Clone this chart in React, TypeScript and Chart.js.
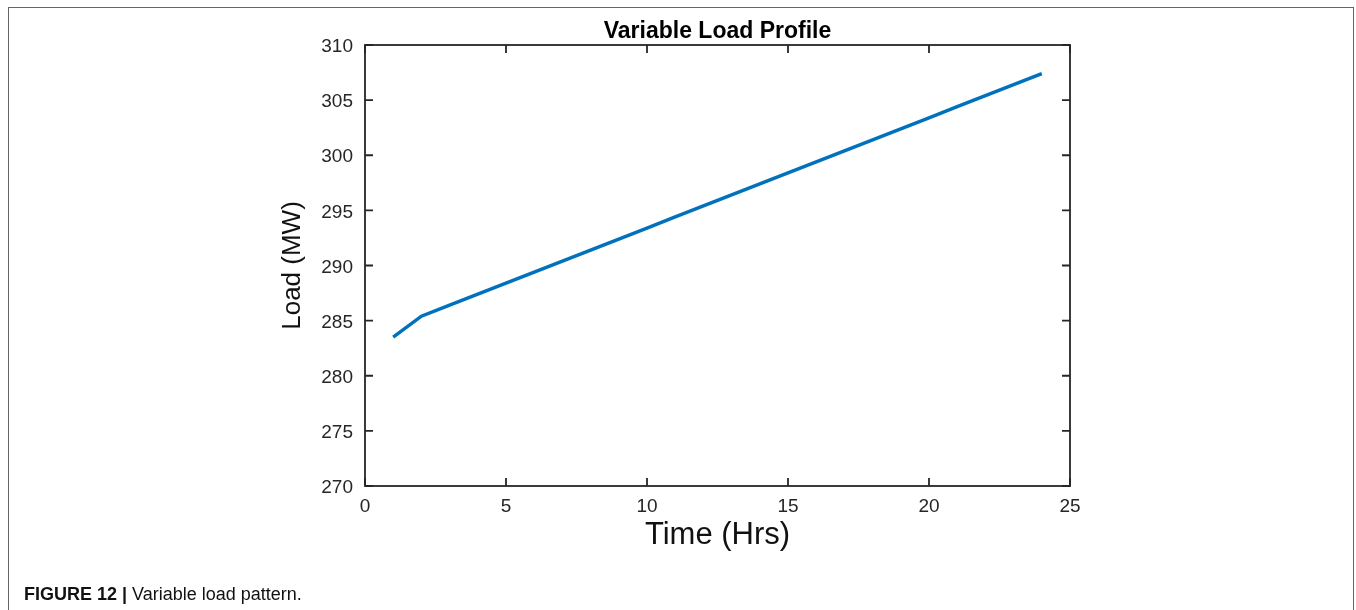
import React, { useEffect, useRef } from "react";
import { Chart, registerables } from "chart.js";

Chart.register(...registerables);

const hours = [1, 2, 3, 4, 5, 6, 7, 8, 9, 10, 11, 12, 13, 14, 15, 16, 17, 18, 19, 20, 21, 22, 23, 24];
const loadMW = [
  283.5, 285.4, 286.4, 287.4, 288.4, 289.4, 290.4, 291.4, 292.4, 293.4, 294.4, 295.4,
  296.4, 297.4, 298.4, 299.4, 300.4, 301.4, 302.4, 303.4, 304.4, 305.4, 306.4, 307.4,
];
const xTicks = [0, 5, 10, 15, 20, 25];
const yTicks = [270, 275, 280, 285, 290, 295, 300, 305, 310];

const chartTitle = "Variable Load Profile";
const xTitle = "Time (Hrs)";
const yTitle = "Load (MW)";
const captionBold = "FIGURE 12 |";
const captionText = " Variable load pattern.";

const FONT = "'Liberation Sans', Arial, Helvetica, sans-serif";
const AXIS = "#262626";

const boxPlugin = {
  id: "matlabBox",
  afterDraw(chart: any) {
    const { ctx, chartArea, scales } = chart;
    const { left, right, top, bottom } = chartArea;
    const x = scales.x;
    const y = scales.y;
    const tl = 8;
    ctx.save();
    ctx.strokeStyle = AXIS;
    ctx.lineWidth = 1.8;
    ctx.strokeRect(left, top, right - left, bottom - top);
    ctx.beginPath();
    for (const v of xTicks) {
      const px = x.getPixelForValue(v);
      ctx.moveTo(px, bottom);
      ctx.lineTo(px, bottom - tl);
      ctx.moveTo(px, top);
      ctx.lineTo(px, top + tl);
    }
    for (const v of yTicks) {
      const py = y.getPixelForValue(v);
      ctx.moveTo(left, py);
      ctx.lineTo(left + tl, py);
      ctx.moveTo(right, py);
      ctx.lineTo(right - tl, py);
    }
    ctx.stroke();
    ctx.restore();
  },
};

export default function App() {
  const canvasRef = useRef<HTMLCanvasElement | null>(null);

  useEffect(() => {
    if (!canvasRef.current) return;
    const chart = new Chart(canvasRef.current, {
      type: "line",
      data: {
        datasets: [
          {
            label: "Load",
            data: hours.map((h, i) => ({ x: h, y: loadMW[i] })),
            borderColor: "#0072BD",
            backgroundColor: "#0072BD",
            borderWidth: 3.5,
            pointRadius: 0,
            tension: 0,
            fill: false,
          },
        ],
      },
      options: {
        responsive: false,
        animation: false,
        devicePixelRatio: 1,
        layout: { padding: { left: 277, right: 286, top: 0, bottom: 56 } },
        plugins: {
          legend: { display: false },
          tooltip: { enabled: false },
          title: {
            display: true,
            text: chartTitle,
            fullSize: false,
            color: "#000",
            font: { family: FONT, size: 23, weight: "bold", lineHeight: 1 },
            padding: { top: 20, bottom: 2 },
          },
        },
        scales: {
          x: {
            type: "linear",
            min: 0,
            max: 25,
            afterBuildTicks: (scale: any) => {
              scale.ticks = xTicks.map((v) => ({ value: v }));
            },
            afterFit: (scale: any) => {
              scale.height = 68;
            },
            grid: { display: false, drawTicks: false },
            border: { display: false },
            ticks: {
              color: AXIS,
              padding: 9,
              maxRotation: 0,
              font: { family: FONT, size: 19 },
              callback: (v: any) => String(v),
            },
            title: {
              display: true,
              text: xTitle,
              color: "#111",
              padding: 0,
              font: { family: FONT, size: 31 },
            },
          },
          y: {
            type: "linear",
            min: 270,
            max: 310,
            afterBuildTicks: (scale: any) => {
              scale.ticks = yTicks.map((v) => ({ value: v }));
            },
            afterFit: (scale: any) => {
              scale.width = 88;
            },
            grid: { display: false, drawTicks: false },
            border: { display: false },
            ticks: {
              color: AXIS,
              padding: 12,
              labelOffset: 2,
              font: { family: FONT, size: 19 },
              callback: (v: any) => String(v),
            },
            title: {
              display: true,
              text: yTitle,
              color: "#111",
              padding: 0,
              font: { family: FONT, size: 26 },
            },
          },
        },
      },
      plugins: [boxPlugin],
    } as any);
    return () => chart.destroy();
  }, []);

  return (
    <div
      style={{
        position: "fixed",
        left: 0,
        top: 0,
        width: 1356,
        height: 610,
        overflow: "hidden",
        background: "#fff",
      }}
    >
      <div
        style={{
          position: "absolute",
          left: 8,
          top: 7,
          width: 1344,
          height: 700,
          borderLeft: "1px solid #666",
          borderTop: "1px solid #666",
          borderRight: "1px solid #666",
        }}
      />
      <canvas
        ref={canvasRef}
        width={1356}
        height={610}
        style={{ position: "absolute", left: 0, top: 0, width: 1356, height: 610 }}
      />
      <div
        style={{
          position: "absolute",
          left: 24,
          top: 585,
          fontFamily: FONT,
          fontSize: 18,
          lineHeight: "18px",
          color: "#111",
          whiteSpace: "nowrap",
        }}
      >
        <b>{captionBold}</b>
        {captionText}
      </div>
    </div>
  );
}
